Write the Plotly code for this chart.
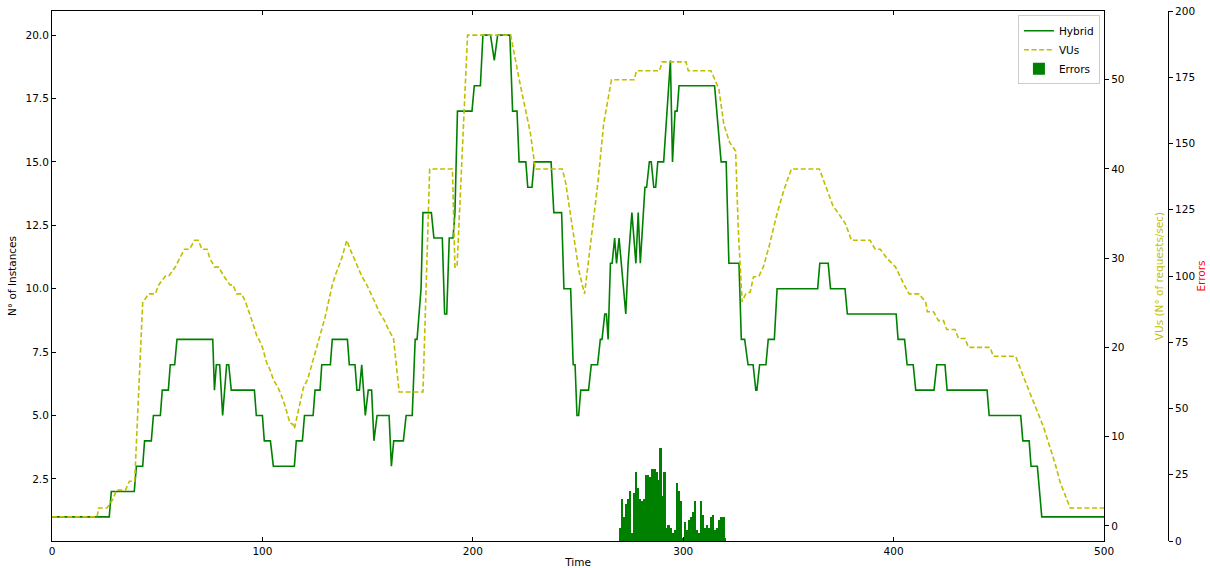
import plotly.graph_objects as go

# Number of running instances (Hybrid policy) over time
hybrid_t = [0, 27.2, 28.2, 39.1, 40.1, 43.1, 44.0, 47.2, 48.2, 51.5, 52.4, 55.3, 56.2, 58.3,
            59.4, 76.4, 77.2, 78.1, 79.7, 81.1, 83.0, 84.0, 85.2, 96.2, 97.1, 100.0, 100.9,
            103.8, 105.2, 115.2, 116.1, 119.0, 120.0, 124.1, 125.0, 127.4, 128.2, 132.3,
            133.2, 140.4, 141.3, 144.0, 144.9, 146.1, 147.2, 148.9, 150.3, 151.9, 153.0,
            154.5, 160.2, 161.3, 162.4, 167.0, 168.3, 171.2, 172.6, 173.5, 175.4, 176.3,
            180.3, 181.5, 185.5, 186.6, 187.6, 188.8, 190.6, 191.5, 192.7, 199.6, 200.7,
            203.6, 204.8, 208.4, 210.2, 211.8, 217.6, 218.9, 221.0, 222.0, 225.2, 226.1,
            228.1, 229.2, 237.2, 238.5, 242.2, 243.3, 246.5, 247.7, 248.6, 249.5, 250.3,
            251.3, 255.0, 256.3, 259.3, 260.6, 261.4, 262.7, 263.5, 264.3, 265.4, 266.2,
            267.4, 268.3, 269.5, 270.6, 272.7, 273.8, 275.6, 277.5, 278.6, 279.6, 281.8,
            282.6, 283.9, 284.8, 286.0, 286.9, 287.9, 290.7, 293.9, 294.9, 296.1, 297.1,
            298.0, 314.9, 318.0, 320.4, 321.7, 326.5, 327.6, 329.2, 330.8, 333.2, 334.5,
            335.0, 336.3, 339.3, 340.4, 343.3, 344.6, 363.9, 364.9, 368.9, 370.0, 376.9,
            378.0, 401.2, 402.1, 405.2, 406.4, 409.3, 410.5, 419.2, 420.5, 424.4, 425.4,
            444.4, 445.4, 460.4, 461.4, 464.4, 465.3, 468.3, 470.4, 500]
hybrid_n = [1, 1, 2, 2, 3, 3, 4, 4, 5, 5, 6, 6, 7, 7,
            8, 8, 6, 7, 7, 5, 7, 7, 6, 6, 5, 5, 4,
            4, 3, 3, 4, 4, 5, 5, 6, 6, 7, 7,
            8, 8, 7, 7, 6, 6, 7, 5, 6, 6, 4,
            5, 5, 3, 4, 4, 5, 5, 8, 8, 10, 13,
            13, 12, 12, 9, 9, 12, 12, 13, 17, 17, 18,
            18, 20, 20, 19, 20, 20, 17, 17, 15, 15, 14,
            14, 15, 15, 13, 13, 10, 10, 7, 7, 5, 5,
            6, 6, 7, 7, 8, 8, 9, 9, 8, 11, 11,
            12, 11, 12, 11, 9, 11, 13, 11, 13, 11, 14,
            14, 15, 15, 14, 14, 15, 15, 19, 15, 17, 17,
            18, 18, 15, 15, 11, 11, 8, 8, 7, 7, 6,
            6, 7, 7, 8, 8, 10, 10, 11, 11, 10, 10,
            9, 9, 8, 8, 7, 7, 6, 6, 7, 7, 6,
            6, 5, 5, 4, 4, 3, 3, 1, 1]

# Virtual users load (requests per second)
vu_t = [0, 21.4, 22.2, 26.1, 29.0, 30.6, 34.9, 36.8, 39.3, 43.1, 45.9, 49.1, 50.7, 53.9,
        55.5, 58.6, 60.7, 63.0, 65.3, 67.8, 69.5, 71.3, 73.7, 75.0, 77.3, 79.2, 81.6,
        84.6, 86.0, 87.8, 90.2, 92.1, 95.0, 97.3, 98.1, 100.0, 102.0, 103.6, 105.2,
        107.6, 109.2, 110.8, 113.1, 114.5, 115.2, 117.1, 119.5, 121.5, 123.7, 127.3,
        129.7, 133.2, 134.5, 137.7, 140.1, 141.7, 145.3, 147.2, 149.6, 151.7, 153.6,
        155.4, 158.0, 159.9, 162.3, 165.0, 176.3, 179.5, 190.3, 191.5, 192.5, 197.5,
        218.0, 222.4, 227.3, 229.7, 242.5, 244.1, 246.0, 248.6, 250.5, 253.1, 255.8,
        259.5, 262.2, 264.6, 265.9, 276.7, 277.8, 288.7, 290.0, 301.3, 302.4, 313.2,
        316.9, 319.3, 322.0, 324.9, 326.2, 328.0, 329.7, 331.8, 333.4, 336.0, 338.2,
        341.0, 344.6, 347.8, 351.4, 364.7, 367.8, 371.1, 373.8, 377.0, 380.0, 388.8,
        391.2, 393.6, 396.8, 400.9, 405.0, 407.4, 412.2, 415.3, 416.0, 418.9, 421.3,
        423.7, 425.2, 429.2, 430.8, 434.0, 435.5, 445.8, 447.4, 458.0, 461.7, 464.8,
        468.0, 471.2, 474.3, 476.7, 479.1, 482.3, 483.9, 500]
vu_rate = [1, 1, 2, 2, 3, 4, 4, 5, 5, 25, 26, 26, 27, 28,
           28, 29, 30, 31, 31, 32, 32, 31, 31, 30, 29, 29, 28,
           27, 27, 26, 26, 25, 23, 21.3, 21, 20, 18.3, 17.5, 16.4,
           15.4, 14.5, 13.4, 11.5, 11.4, 10.9, 13.1, 15.5, 16.4, 18.3, 21.1,
           23.3, 27, 28, 30, 32, 31, 29, 28, 27, 26, 25,
           24, 23, 22, 21, 15, 15, 40, 40, 29, 29, 55,
           55, 49.6, 44.1, 40, 40, 38.5, 35.5, 31.2, 28.5, 26, 31.2,
           38.6, 45.1, 48.5, 50, 50, 51, 51, 52, 52, 51, 51,
           49, 45, 43, 42, 33, 25.1, 26, 26.2, 27.9, 28, 29.1,
           31.5, 35, 37.6, 40, 40, 38, 35.9, 35, 33.9, 32, 32,
           31, 31, 30, 29, 27, 26, 26, 25, 24, 24, 23,
           23, 22, 22, 21, 21, 20, 20, 19, 19, 16.7, 14.8,
           13, 11.1, 8.8, 7, 4.9, 2.9, 2, 2]

# Errors per sample
err_t = [269.9, 270.9, 271.8, 272.8, 273.8, 274.7, 275.7, 276.6, 277.6, 278.6, 279.5,
         280.5, 281.5, 282.4, 283.4, 284.4, 285.3, 286.3, 287.3, 288.2, 289.2, 290.1,
         291.1, 292.1, 293.0, 294.0, 295.0, 295.9, 296.9, 297.9, 298.8, 299.8, 300.7,
         301.7, 302.7, 303.6, 304.6, 305.6, 306.5, 307.5, 308.5, 309.4, 310.4, 311.4,
         312.3, 313.3, 314.2, 315.2, 316.2, 317.1, 318.1, 319.1, 320.0]
err_n = [5, 16, 9, 14, 16, 19, 3, 18, 26, 20, 16,
         15, 16, 25, 25, 24, 27, 27, 26, 23, 35, 17,
         26, 5, 6, 5, 3, 4, 22, 19, 15, 1, 7,
         4, 8, 9, 11, 15, 4, 3, 15, 10, 5, 6,
         5, 9, 10, 4, 5, 8, 9, 9, 1]

left_ticks = [2.5, 5.0, 7.5, 10.0, 12.5, 15.0, 17.5, 20.0]
vu_ticks = [0, 10, 20, 30, 40, 50]
err_ticks = [0, 25, 50, 75, 100, 125, 150, 175, 200]
time_ticks = [0, 100, 200, 300, 400, 500]

GREEN = "#008000"
YELLOW = "#bfbf00"
FONT = "DejaVu Sans"
FS = 10.5

fig = go.Figure()
fig.add_trace(go.Scatter(x=hybrid_t, y=hybrid_n, mode="lines", name="Hybrid",
                         line=dict(color=GREEN, width=1.6), yaxis="y"))
fig.add_trace(go.Scatter(x=vu_t, y=vu_rate, mode="lines", name="VUs",
                         line=dict(color=YELLOW, width=1.6, dash="5px,2.6px"), yaxis="y2"))
fig.add_trace(go.Bar(x=err_t, y=err_n, name="Errors", width=1.05,
                     marker=dict(color=GREEN, line=dict(width=0)), yaxis="y3"))

axis_common = dict(showgrid=False, zeroline=False, showline=True, linecolor="black",
                   linewidth=1, tickcolor="black", ticklen=4, automargin=False,
                   tickfont=dict(family=FONT, size=FS, color="black"))

fig.update_layout(
    width=1210, height=568, autosize=False,
    margin=dict(l=52, r=42, t=11, b=27),
    paper_bgcolor="white", plot_bgcolor="white",
    font=dict(family=FONT, size=FS, color="black"),
    showlegend=True,
    legend=dict(x=0.939, y=0.992, xanchor="right", yanchor="top",
                bgcolor="rgba(255,255,255,0.9)", bordercolor="#cccccc", borderwidth=1,
                font=dict(family=FONT, size=FS), itemwidth=30, tracegroupgap=0),
    bargap=0,
    xaxis=dict(domain=[0, 0.9427], range=[0, 500], tickvals=time_ticks,
               ticks="inside", mirror="ticks",
               title=dict(text="Time", standoff=4, font=dict(family=FONT, size=FS)),
               **axis_common),
    yaxis=dict(range=[0.05, 20.95], tickvals=left_ticks, tickformat=".1f",
               ticks="inside", mirror=True,
               title=dict(text="N° of Instances", standoff=6, font=dict(family=FONT, size=FS)),
               **axis_common),
    yaxis2=dict(overlaying="y", side="right", anchor="x", range=[-1.7, 57.7],
                tickvals=vu_ticks, ticks="outside",
                title=dict(text="VUs (N° of requests/sec)", standoff=32,
                           font=dict(family=FONT, size=FS, color=YELLOW)),
                **axis_common),
    yaxis3=dict(overlaying="y", side="right", anchor="free", position=1.0,
                range=[0, 200], tickvals=err_ticks, ticks="outside",
                title=dict(text="Errors", standoff=2,
                           font=dict(family=FONT, size=FS, color="red")),
                **axis_common),
)

fig.write_html("out.html")
